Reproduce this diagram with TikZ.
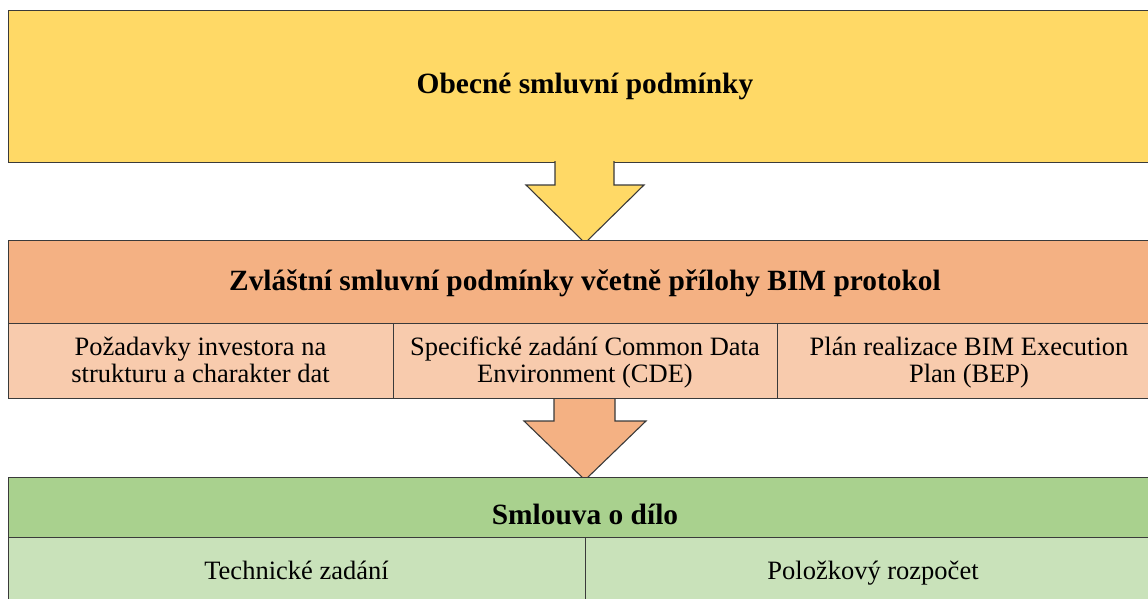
\documentclass[tikz,border=0pt]{standalone}
\usepackage{fontspec}
\setmainfont{Liberation Serif}
\definecolor{edge}{HTML}{3A3A3A}
\definecolor{yellowfill}{HTML}{FFD966}
\definecolor{orangehead}{HTML}{F4B183}
\definecolor{orangesub}{HTML}{F8CBAD}
\definecolor{greenhead}{HTML}{A9D18E}
\definecolor{greensub}{HTML}{C9E2BA}
\begin{document}
\begin{tikzpicture}[x=1pt,y=-1pt,
  box/.style={draw=edge,line width=1.1pt,inner sep=0pt,anchor=north west},
  headtext/.style={font=\fontsize{29.4}{34}\selectfont\bfseries,anchor=base,inner sep=0pt},
  celltext/.style={font=\fontsize{26.5}{27}\selectfont,anchor=base,inner sep=0pt,align=center},
  arrowline/.style={draw=edge,line width=1.1pt,line join=miter}]
\useasboundingbox (0,0) rectangle (1148,599);
\clip (0,0) rectangle (1148,599);

% general conditions
\node[box,fill=yellowfill,minimum width=1153pt,minimum height=152pt] (general) at (8,10) {};
\node[headtext] (generalT) at (585,94) {Obecné smluvní podmínky};

% arrow from general to special conditions
\coordinate (a1s) at (555,161);
\coordinate (a1t) at (614,161);
\fill[yellowfill] (a1s) -- (555,185) -- (526,185) -- (585,243) -- (644,185) -- (614,185) -- (a1t) -- cycle;
\draw[arrowline] (a1s) -- (555,185) -- (526,185) -- (585,243) -- (644,185) -- (614,185) -- (a1t);

% special conditions with BIM protocol
\node[box,fill=orangehead,minimum width=1153pt,minimum height=83pt] (special) at (8,240) {};
\node[headtext] (specialT) at (585,290) {Zvláštní smluvní podmínky včetně přílohy BIM protokol};
\node[box,fill=orangesub,minimum width=385pt,minimum height=75pt] (req) at (8,323) {};
\node[box,fill=orangesub,minimum width=384pt,minimum height=75pt] (cde) at (393,323) {};
\node[box,fill=orangesub,minimum width=384pt,minimum height=75pt] (bep) at (777,323) {};
\node[celltext] (reqT) at (200.5,382) {Požadavky investora na\\strukturu a charakter dat};
\node[celltext] (cdeT) at (585,382) {Specifické zadání Common Data\\Environment (CDE)};
\node[celltext] (bepT) at (969,382) {Plán realizace BIM Execution\\Plan (BEP)};

% arrow from special conditions to contract
\coordinate (a2s) at (554,399);
\coordinate (a2t) at (615,399);
\fill[orangehead] (a2s) -- (554,421) -- (524,421) -- (585,480) -- (646,421) -- (615,421) -- (a2t) -- cycle;
\draw[arrowline] (a2s) -- (554,421) -- (524,421) -- (585,480) -- (646,421) -- (615,421) -- (a2t);

% contract for work
\node[box,fill=greenhead,minimum width=1153pt,minimum height=60pt] (contract) at (8,477) {};
\node[headtext] (contractT) at (585,524) {Smlouva o dílo};
\node[box,fill=greensub,minimum width=577pt,minimum height=70pt] (tech) at (8,537) {};
\node[box,fill=greensub,minimum width=576pt,minimum height=70pt] (budget) at (585,537) {};
\node[celltext] (techT) at (296.5,579) {Technické zadání};
\node[celltext] (budgetT) at (873,579) {Položkový rozpočet};
\end{tikzpicture}
\end{document}
